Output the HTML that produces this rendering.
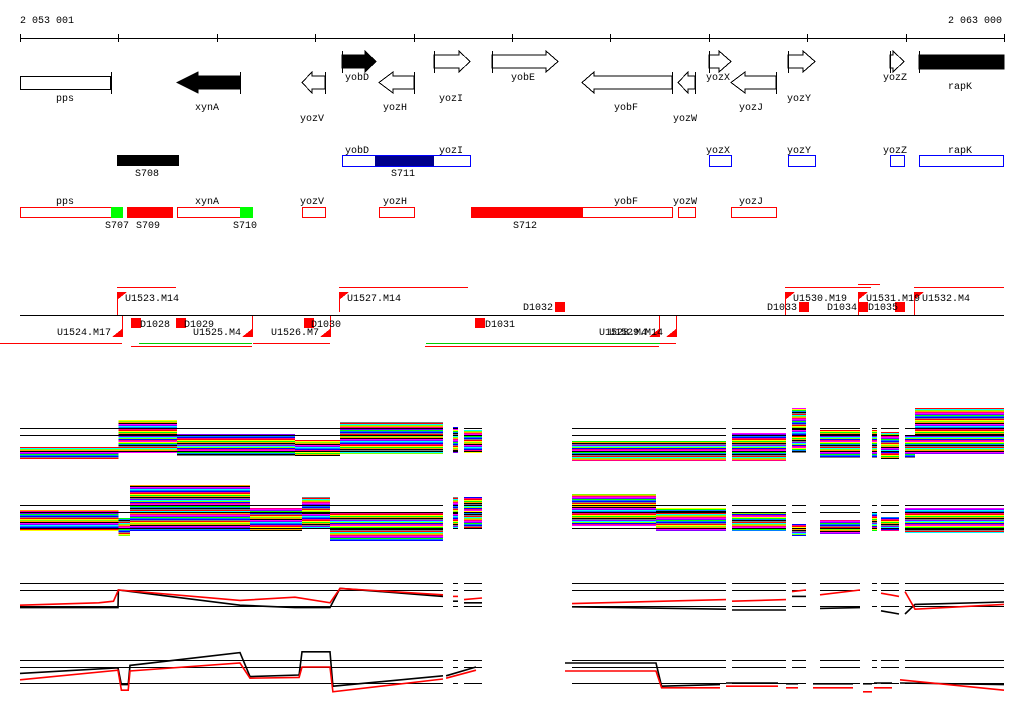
<!DOCTYPE html>
<html><head><meta charset="utf-8"><style>
html,body{margin:0;padding:0;background:#fff;width:1024px;height:714px;overflow:hidden}
svg text{font-family:"Liberation Mono",monospace;font-size:10px;fill:#000}
</style></head><body>
<svg id="chart" width="1024" height="714" viewBox="0 0 1024 714" xmlns="http://www.w3.org/2000/svg" shape-rendering="crispEdges">
<g>
<text x="20" y="23">2 053 001</text>
<text x="1002" y="23" text-anchor="end">2 063 000</text>
<line x1="20" y1="38.5" x2="1004" y2="38.5" stroke="#000"/>
<g id="ticks" stroke="#000"></g>
</g>
<g stroke="#000" fill="#fff">
<rect x="20.5" y="76.5" width="90" height="13"/><line x1="111.5" y1="72" x2="111.5" y2="94"/>
<polygon points="240,76 198,76 198,72 177,82.5 198,93 198,89 240,89" fill="#000"/><line x1="240.5" y1="72" x2="240.5" y2="94"/>
<polygon points="325,76 312,76 312,72 302,82.5 312,93 312,89 325,89"/><line x1="325.5" y1="72" x2="325.5" y2="94"/>
<polygon points="342,55 365,55 365,51 376,61.5 365,72 365,68 342,68" fill="#000"/><line x1="342.5" y1="51" x2="342.5" y2="73"/>
<polygon points="414,76 393,76 393,72 379,82.5 393,93 393,89 414,89"/><line x1="414.5" y1="72" x2="414.5" y2="94"/>
<polygon points="434,55 459,55 459,51 470,61.5 459,72 459,68 434,68"/><line x1="434.5" y1="51" x2="434.5" y2="73"/>
<polygon points="492,55 546,55 546,51 558,61.5 546,72 546,68 492,68"/><line x1="492.5" y1="51" x2="492.5" y2="73"/>
<polygon points="672,76 594,76 594,72 582,82.5 594,93 594,89 672,89"/><line x1="672.5" y1="72" x2="672.5" y2="94"/>
<polygon points="695,76 688,76 688,72 678,82.5 688,93 688,89 695,89"/><line x1="695.5" y1="72" x2="695.5" y2="94"/>
<polygon points="709,55 719,55 719,51 731,61.5 719,72 719,68 709,68"/><line x1="709.5" y1="51" x2="709.5" y2="73"/>
<polygon points="776,76 745,76 745,72 731,82.5 745,93 745,89 776,89"/><line x1="776.5" y1="72" x2="776.5" y2="94"/>
<polygon points="788,55 803,55 803,51 815,61.5 803,72 803,68 788,68"/><line x1="788.5" y1="51" x2="788.5" y2="73"/>
<polygon points="890,55 893,55 893,51 904,61.5 893,72 893,68 890,68"/><line x1="890.5" y1="51" x2="890.5" y2="73"/>
<rect x="919" y="55" width="85" height="14" fill="#000"/><line x1="919.5" y1="51" x2="919.5" y2="73"/>
</g>
<g text-anchor="middle">
<text x="65" y="101" text-anchor="middle">pps</text><text x="207" y="110" text-anchor="middle">xynA</text>
<text x="312" y="121" text-anchor="middle">yozV</text><text x="357" y="80" text-anchor="middle">yobD</text>
<text x="395" y="110" text-anchor="middle">yozH</text><text x="451" y="101" text-anchor="middle">yozI</text>
<text x="523" y="80" text-anchor="middle">yobE</text><text x="626" y="110" text-anchor="middle">yobF</text>
<text x="685" y="121" text-anchor="middle">yozW</text><text x="718" y="80" text-anchor="middle">yozX</text>
<text x="751" y="110" text-anchor="middle">yozJ</text><text x="799" y="101" text-anchor="middle">yozY</text>
<text x="895" y="80" text-anchor="middle">yozZ</text><text x="960" y="89" text-anchor="middle">rapK</text>
</g>
<g>
<rect x="117" y="155" width="62" height="11" fill="#000"/>
<rect x="342.5" y="155.5" width="128" height="11" fill="#fff" stroke="#00f"/>
<rect x="375" y="156" width="59" height="10" fill="#00008b"/>
<rect x="709.5" y="155.5" width="22" height="11" fill="#fff" stroke="#00f"/>
<rect x="788.5" y="155.5" width="27" height="11" fill="#fff" stroke="#00f"/>
<rect x="890.5" y="155.5" width="14" height="11" fill="#fff" stroke="#00f"/>
<rect x="919.5" y="155.5" width="84" height="11" fill="#fff" stroke="#00f"/>
<text x="147" y="176" text-anchor="middle">S708</text><text x="403" y="176" text-anchor="middle">S711</text>
<text x="357" y="153" text-anchor="middle">yobD</text><text x="451" y="153" text-anchor="middle">yozI</text>
<text x="718" y="153" text-anchor="middle">yozX</text><text x="799" y="153" text-anchor="middle">yozY</text>
<text x="895" y="153" text-anchor="middle">yozZ</text><text x="960" y="153" text-anchor="middle">rapK</text>
</g>
<g>
<rect x="20.5" y="207.5" width="91" height="10" fill="#fff" stroke="#f00"/>
<rect x="111" y="207" width="12" height="11" fill="#0f0"/>
<rect x="127" y="207" width="46" height="11" fill="#f00"/>
<rect x="177.5" y="207.5" width="63" height="10" fill="#fff" stroke="#f00"/>
<rect x="240" y="207" width="13" height="11" fill="#0f0"/>
<rect x="302.5" y="207.5" width="23" height="10" fill="#fff" stroke="#f00"/>
<rect x="379.5" y="207.5" width="35" height="10" fill="#fff" stroke="#f00"/>
<rect x="471" y="207" width="111" height="11" fill="#f00"/>
<rect x="582.5" y="207.5" width="90" height="10" fill="#fff" stroke="#f00"/>
<rect x="678.5" y="207.5" width="17" height="10" fill="#fff" stroke="#f00"/>
<rect x="731.5" y="207.5" width="45" height="10" fill="#fff" stroke="#f00"/>
<text x="65" y="204" text-anchor="middle">pps</text><text x="207" y="204" text-anchor="middle">xynA</text>
<text x="312" y="204" text-anchor="middle">yozV</text><text x="395" y="204" text-anchor="middle">yozH</text>
<text x="626" y="204" text-anchor="middle">yobF</text><text x="685" y="204" text-anchor="middle">yozW</text>
<text x="751" y="204" text-anchor="middle">yozJ</text>
<text x="117" y="228" text-anchor="middle">S707</text><text x="148" y="228" text-anchor="middle">S709</text>
<text x="245" y="228" text-anchor="middle">S710</text><text x="525" y="228" text-anchor="middle">S712</text>
</g>
<g>
<line x1="20" y1="315.5" x2="1004" y2="315.5" stroke="#000"/>
<g stroke="#f00">
<line x1="117" y1="287.5" x2="176" y2="287.5"/><line x1="339" y1="287.5" x2="468" y2="287.5"/>
<line x1="785" y1="287.5" x2="871" y2="287.5"/><line x1="858" y1="284.5" x2="880" y2="284.5"/>
<line x1="914" y1="287.5" x2="1004" y2="287.5"/>
<line x1="117.5" y1="292" x2="117.5" y2="315"/><line x1="339.5" y1="292" x2="339.5" y2="312"/>
<line x1="785.5" y1="292" x2="785.5" y2="315"/><line x1="858.5" y1="292" x2="858.5" y2="315"/>
<line x1="914.5" y1="292" x2="914.5" y2="315"/>
<line x1="122.5" y1="316" x2="122.5" y2="337"/><line x1="252.5" y1="316" x2="252.5" y2="337"/>
<line x1="330.5" y1="316" x2="330.5" y2="337"/><line x1="676.5" y1="316" x2="676.5" y2="337"/>
<line x1="659.5" y1="316" x2="659.5" y2="337"/>
<line x1="0" y1="343.5" x2="122" y2="343.5"/><line x1="131" y1="346.5" x2="252" y2="346.5"/>
<line x1="253" y1="343.5" x2="330" y2="343.5"/><line x1="425" y1="346.5" x2="659" y2="346.5"/>
<line x1="660" y1="343.5" x2="676" y2="343.5"/>
</g>
<g stroke="#0c0"><line x1="139" y1="343.5" x2="252" y2="343.5"/><line x1="426" y1="343.5" x2="660" y2="343.5"/></g>
<g fill="#f00">
<polygon points="117,292 127,292 117,300"/><polygon points="339,292 349,292 339,300"/>
<polygon points="785,292 795,292 785,300"/><polygon points="858,292 868,292 858,300"/>
<polygon points="914,292 924,292 914,300"/>
<polygon points="122,337 112,337 122,329"/><polygon points="252,337 242,337 252,329"/>
<polygon points="330,337 320,337 330,329"/><polygon points="659,337 649,337 659,329"/>
<polygon points="676,337 666,337 676,329"/>
<rect x="131" y="318" width="10" height="10"/><rect x="176" y="318" width="10" height="10"/>
<rect x="304" y="318" width="10" height="10"/><rect x="475" y="318" width="10" height="10"/>
<rect x="555" y="302" width="10" height="10"/><rect x="799" y="302" width="10" height="10"/>
<rect x="858" y="302" width="10" height="10"/><rect x="895" y="302" width="10" height="10"/>
</g>
<text x="125" y="301">U1523.M14</text><text x="347" y="301">U1527.M14</text>
<text x="793" y="301">U1530.M19</text><text x="866" y="301">U1531.M19</text><text x="922" y="301">U1532.M4</text>
<text x="523" y="310">D1032</text><text x="767" y="310">D1033</text><text x="827" y="310">D1034</text><text x="868" y="310">D1035</text>
<text x="140" y="327">D1028</text><text x="184" y="327">D1029</text><text x="311" y="327">D1030</text><text x="485" y="327">D1031</text>
<text x="57" y="335">U1524.M17</text><text x="193" y="335">U1525.M4</text><text x="271" y="335">U1526.M7</text>
<text x="599" y="335">U1528.M4</text><text x="609" y="335">U1529.M14</text>
</g>
<g id="panels"></g>
</svg>
<script>
const NS='http://www.w3.org/2000/svg';
const tickPositions=[0,1000,2000,3000,4000,5000,6000,7000,8000,9000,10000];
function xScale(bp){return 20+bp*0.0984;}
const panelBottoms=[451,528,606,683];
function yScale(p,v){return panelBottoms[p]-v*16;}
const refLevels=[0,1,1.45];
const segments=[[0,4299],[4400,4451],[4512,4695],[5610,7175],[7236,7785],[7846,7988],[8130,8537],[8659,8709],[8750,8933],[8994,10000]];
const band1=[[0,1000,-0.44,0.25],[1000,1595,-0.06,1.94],[1595,2795,-0.25,1.06],[2795,3252,-0.25,0.69],[3252,4299,-0.12,1.81],[4400,4451,-0.06,1.5],[4512,4695,-0.06,1.31],[5610,7175,-0.56,0.63],[7236,7785,-0.56,1.13],[7846,7988,-0.06,2.69],[8130,8537,-0.38,1.31],[8659,8709,-0.38,1.31],[8750,8933,-0.44,1.19],[8994,9096,-0.38,1.0],[9096,10000,-0.12,2.69]];
const band2=[[0,1000,-0.13,1.13],[1000,1118,-0.44,0.63],[1118,2337,-0.13,2.69],[2337,2866,-0.13,1.25],[2866,3150,0,1.94],[3150,4299,-0.75,1.0],[4400,4451,0,1.94],[4512,4695,0,1.94],[5610,6463,0.19,2.13],[6463,7175,-0.13,1.25],[7236,7785,-0.13,1.0],[7846,7988,-0.44,0.25],[8130,8537,-0.31,0.5],[8659,8709,-0.13,0.94],[8750,8933,-0.13,0.69],[8994,10000,-0.25,1.25]];
const black3=[[[0,-0.1],[996,-0.1],[1000,1.0],[2236,0.05],[2795,-0.1],[3150,-0.1],[3252,1.1],[4299,0.6]],[[4400,0.3],[4451,0.3]],[[4512,0.2],[4695,0.2]],[[5610,-0.05],[7175,-0.2]],[[7236,-0.25],[7785,-0.25]],[[7846,0.6],[7988,0.6]],[[8130,-0.15],[8537,-0.1]],[[8750,-0.3],[8933,-0.5]],[[8994,-0.5],[9096,0.1],[10000,0.25]]];
const red3=[[[0,0.05],[800,0.2],[950,0.3],[1000,1.0],[2236,0.35],[2795,0.55],[3150,0.2],[3252,1.1],[4299,0.7]],[[4400,0.6],[4451,0.6]],[[4512,0.4],[4695,0.5]],[[5610,0.15],[7175,0.4]],[[7236,0.3],[7785,0.4]],[[7846,0.9],[7988,1.0]],[[8130,0.7],[8537,1.0]],[[8750,0.8],[8933,0.6]],[[8994,0.9],[9096,-0.2],[10000,0.1]]];
const black4=[[[0,0.6],[996,0.95],[1030,-0.1],[1100,-0.1],[1118,1.1],[2236,1.9],[2337,0.4],[2836,0.5],[2866,1.95],[3150,1.95],[3180,-0.2],[4299,0.45]],[[4330,0.45],[4634,1.0]],[[5539,1.25],[6463,1.25],[6520,-0.2],[7114,-0.1]],[[7175,0.0],[7703,0.0]],[[7785,-0.05],[7907,-0.05]],[[8059,-0.05],[8465,-0.05]],[[8567,-0.05],[8659,-0.05]],[[8679,0.0],[8862,0.0]],[[8943,0.0],[10000,-0.1]]];
const red4=[[[0,0.2],[996,0.8],[1030,-0.45],[1100,-0.45],[1118,0.75],[2236,1.25],[2337,0.3],[2836,0.35],[2866,1.0],[3150,1.0],[3180,-0.55],[4299,0.25]],[[4330,0.3],[4634,0.8]],[[5539,0.75],[6463,0.75],[6520,-0.3],[7114,-0.3]],[[7175,-0.2],[7703,-0.2]],[[7785,-0.3],[7907,-0.3]],[[8059,-0.3],[8465,-0.3]],[[8567,-0.55],[8659,-0.55]],[[8679,-0.3],[8862,-0.3]],[[8943,0.2],[10000,-0.45]]];
const stripeColors=['#ff0000','#00ff00','#0000ff','#ff00ff','#00ffff','#ffa500','#808080','#ffff00','#0080ff','#ff0080','#8000ff','#80ff00','#000000'];

const svg=document.getElementById('chart');
const tg=document.getElementById('ticks');
tickPositions.forEach(t=>{const l=document.createElementNS(NS,'line');


const x=Math.round(xScale(t))+0.5;l.setAttribute('x1',x);l.setAttribute('x2',x);l.setAttribute('y1',34);l.setAttribute('y2',42);tg.appendChild(l);});
const pg=document.getElementById('panels');
function line(x1,y1,x2,y2,c,name){const l=document.createElementNS(NS,'line');


l.setAttribute('x1',x1);l.setAttribute('y1',y1);l.setAttribute('x2',x2);l.setAttribute('y2',y2);l.setAttribute('stroke',c);pg.appendChild(l);}
function bands(p,arr){let k=p*5;arr.forEach(b=>{const x0=xScale(b[0]),x1=xScale(b[1]);const yT=Math.round(yScale(p,b[3])),yB=Math.round(yScale(p,b[2]));
for(let y=yT;y<=yB;y+=1){line(x0,y+0.5,x1,y+0.5,stripeColors[k%stripeColors.length],'expression-stripe');k+=(y%3===0)?4:7;}});}
function refLines(p){segments.forEach(s=>{refLevels.forEach(v=>{const y=Math.round(yScale(p,v))+0.5;line(xScale(s[0]),y,xScale(s[1]),y,'#000','reference-line');});});}
function series(p,arr,c,name){arr.forEach(seg=>{const pl=document.createElementNS(NS,'polyline');


pl.setAttribute('points',seg.map(d=>xScale(d[0]).toFixed(1)+','+yScale(p,d[1]).toFixed(1)).join(' '));
pl.setAttribute('fill','none');pl.setAttribute('stroke',c);pl.setAttribute('stroke-width','1.6');pl.setAttribute('shape-rendering','auto');pg.appendChild(pl);});}
bands(0,band1);bands(1,band2);
[0,1,2,3].forEach(refLines);
series(2,black3,'#000','black-profile-3');series(2,red3,'#f00','red-profile-3');
series(3,black4,'#000','black-profile-4');series(3,red4,'#f00','red-profile-4');
</script>
</body></html>
